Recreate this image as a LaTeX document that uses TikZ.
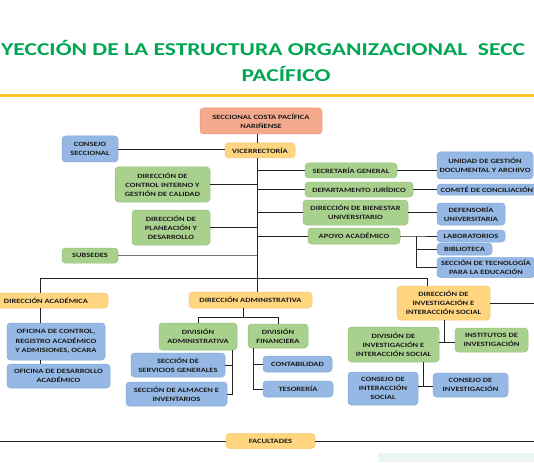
\documentclass[tikz,border=0pt]{standalone}
\usepackage{fontspec}
\setmainfont{Carlito}
\newfontfamily\widefont[FakeStretch=1.3]{Carlito}
\definecolor{titlegreen}{HTML}{00A651}
\definecolor{rulegold}{HTML}{FFC72C}
\definecolor{orF}{HTML}{F5A98C}
\definecolor{orD}{HTML}{EC9A7E}
\definecolor{yeF}{HTML}{FFD580}
\definecolor{yeD}{HTML}{F7C86E}
\definecolor{grF}{HTML}{A9D18E}
\definecolor{grD}{HTML}{95C27A}
\definecolor{blF}{HTML}{95B9E4}
\definecolor{blD}{HTML}{82A9DA}
\definecolor{txt}{HTML}{1A1A1A}
\definecolor{lnk}{HTML}{222222}
\definecolor{paleg}{HTML}{EAF5EF}
\begin{document}
\begin{tikzpicture}[x=1pt,y=-1pt,
  box/.style={rounded corners=3.5pt, align=center, inner sep=1pt, line width=0.5pt,
    font=\widefont\fontsize{6.5}{9.2}\selectfont\bfseries, text=txt},
  sz/.style 2 args={minimum width=#1pt, minimum height=#2pt},
  orbox/.style={box, fill=orF, draw=orD},
  yebox/.style={box, fill=yeF, draw=yeD},
  grbox/.style={box, fill=grF, draw=grD},
  blbox/.style={box, fill=blF, draw=blD},
  link/.style={draw=lnk, line width=0.9pt},
  titletext/.style={font=\widefont\fontsize{18.1}{20}\selectfont\bfseries, text=titlegreen, inner sep=0pt}
]
\useasboundingbox (0,0) rectangle (534,462);
\fill[white] (0,0) rectangle (534,462);

% title
\node[titletext, anchor=west] (t1) at (1,48) {YECCIÓN DE LA ESTRUCTURA ORGANIZACIONAL\ \ SECC};
\node[titletext] (t2) at (286,74) {PACÍFICO};
\draw[rulegold, line width=3pt] (0,96) -- (534,96);

% pale strip bottom right
\fill[paleg] (378,453) rectangle (534,462);

% top part
\node[orbox, sz={122}{26}] (sec) at (261,121) {SECCIONAL COSTA PACÍFICA\\NARIÑENSE};
\node[yebox, sz={70}{15}] (vice) at (260,150.5) {VICERRECTORÍA};
\node[blbox, sz={56}{26}] (consejo) at (90,149) {CONSEJO\\SECCIONAL};
\node[grbox, sz={95}{35}] (control) at (162.5,184.5) {DIRECCIÓN DE\\CONTROL INTERNO Y\\GESTIÓN DE CALIDAD};
\node[grbox, sz={78}{35}] (planea) at (171,227.5) {DIRECCIÓN DE\\PLANEACIÓN Y\\DESARROLLO};
\node[grbox, sz={56}{15}] (subsedes) at (90,255.5) {SUBSEDES};

\node[grbox, sz={92}{15}] (secgen) at (351,170.5) {SECRETARÍA GENERAL};
\node[grbox, sz={108}{15}] (juridico) at (359,189.5) {DEPARTAMENTO JURÍDICO};
\node[grbox, sz={105}{25}] (bienestar) at (355.5,212.5) {DIRECCIÓN DE BIENESTAR\\UNIVERSITARIO};
\node[grbox, sz={92}{16}] (apoyo) at (354,236) {APOYO ACADÉMICO};

\node[blbox, sz={96}{27}] (unidad) at (485,165.5) {UNIDAD DE GESTIÓN\\DOCUMENTAL Y ARCHIVO};
\node[blbox, sz={100}{11}] (comite) at (487,189.5) {COMITÉ DE CONCILIACIÓN};
\node[blbox, sz={68}{22}] (defensoria) at (471,214) {DEFENSORÍA\\UNIVERSITARIA};
\node[blbox, sz={68}{12}] (labs) at (471,236) {LABORATORIOS};
\node[blbox, sz={55}{12}] (biblio) at (464.5,249) {BIBLIOTECA};
\node[blbox, sz={98}{20}] (tecno) at (486,267.5) {SECCIÓN DE TECNOLOGÍA\\PARA LA EDUCACIÓN};

% lower part
\node[yebox, sz={124}{15}] (dacad) at (46,300.5) {DIRECCIÓN ACADÉMICA};
\node[blbox, sz={98}{37}] (ocara) at (56,341.5) {OFICINA DE CONTROL,\\REGISTRO ACADÉMICO\\Y ADMISIONES, OCARA};
\node[blbox, sz={103}{24}] (odes) at (58.5,376) {OFICINA DE DESARROLLO\\ACADÉMICO};

\node[yebox, sz={123}{16}] (dadmin) at (250.5,300) {DIRECCIÓN ADMINISTRATIVA};
\node[grbox, sz={78}{27}] (divadm) at (198,336.5) {DIVISIÓN\\ADMINISTRATIVA};
\node[grbox, sz={60}{24}] (divfin) at (278,336) {DIVISIÓN\\FINANCIERA};
\node[blbox, sz={94}{24}] (servicios) at (178,365) {SECCIÓN DE\\SERVICIOS GENERALES};
\node[blbox, sz={101}{24}] (almacen) at (176.5,394) {SECCIÓN DE ALMACEN E\\INVENTARIOS};
\node[blbox, sz={69}{16}] (conta) at (297.5,364) {CONTABILIDAD};
\node[blbox, sz={70}{16}] (teso) at (298,389) {TESORERÍA};

\node[yebox, sz={93}{34}] (dinv) at (443.5,303) {DIRECCIÓN DE\\INVESTIGACIÓN E\\INTERACCIÓN SOCIAL};
\node[grbox, sz={91}{35}] (divinv) at (393.5,344.5) {DIVISIÓN DE\\INVESTIGACIÓN E\\INTERACCIÓN SOCIAL};
\node[grbox, sz={73}{24}] (institutos) at (491.5,340) {INSTITUTOS DE\\INVESTIGACIÓN};
\node[blbox, sz={70}{33}] (cis) at (383,388.5) {CONSEJO DE\\INTERACCIÓN\\SOCIAL};
\node[blbox, sz={75}{24}] (cinv) at (470.5,385) {CONSEJO DE\\INVESTIGACIÓN};

\node[yebox, sz={89}{15}] (facultades) at (270.5,441) {FACULTADES};

% coordinates
\coordinate (m1) at (257,278);
\coordinate (tl) at (40,278);
\coordinate (tr) at (427,278);
\coordinate (ap) at (416,236);
\coordinate (da1) at (243,317);
\coordinate (dv1) at (232,394);
\coordinate (df1) at (253,389);
\coordinate (di) at (444,342);
\coordinate (ci) at (423,386);
\coordinate (fl) at (0,441);
\coordinate (fr) at (534,441);
\coordinate (er) at (534,303);

% connectors
\draw[link] (sec.south -| m1) -- (vice.north -| m1);
\draw[link] (vice.south -| m1) -- (dadmin.north -| m1);
\draw[link] (consejo.east) -- (consejo.east -| vice.west);
\draw[link] (control.east) -- (control.east -| m1);
\draw[link] (planea.east) -- (planea.east -| m1);
\draw[link, draw=black!55] (subsedes.east) -- (subsedes.east -| m1);
\draw[link] (m1 |- secgen.west) -- (secgen.west);
\draw[link] (m1 |- juridico.west) -- (juridico.west);
\draw[link] (m1 |- bienestar.west) -- (bienestar.west);
\draw[link] (m1 |- apoyo.west) -- (apoyo.west);
\draw[link] (secgen.east) -- (secgen.east -| unidad.west);
\draw[link] (juridico.east) -- (juridico.east -| comite.west);
\draw[link] (bienestar.east) -- (bienestar.east -| defensoria.west);
\draw[link] (apoyo.east) -- (ap) -- (labs.west);
\draw[link] (ap) |- (tecno.west);
\draw[link] (ap |- biblio.west) -- (biblio.west);

\draw[link] (dacad.north -| tl) -- (tl) -- (tr) -- (dinv.north -| tr);
\draw[link] (dacad.south -| tl) -- (ocara.north -| tl);
\draw[link] (ocara.south -| tl) -- (odes.north -| tl);

\draw[link] (dadmin.south -| da1) -- (da1);
\draw[link] (divadm.north) -- (divadm.north |- da1) -- (divfin.north |- da1) -- (divfin.north);
\draw[link] (divadm.south -| dv1) -- (dv1) -- (almacen.east |- dv1);
\draw[link] (dv1 |- servicios.east) -- (servicios.east);
\draw[link] (divfin.south -| df1) -- (df1) -- (teso.west |- df1);
\draw[link] (df1 |- conta.west) -- (conta.west);

\draw[link] (dinv.east) -- (er);
\draw[link] (dinv.south -| di) -- (di);
\draw[link] (divinv.east |- di) -- (institutos.west |- di);
\draw[link] (divinv.south -| ci) -- (ci);
\draw[link] (cis.east |- ci) -- (cinv.west |- ci);

\draw[link] (fl) -- (facultades.west);
\draw[link] (facultades.east) -- (fr);
\end{tikzpicture}
\end{document}
